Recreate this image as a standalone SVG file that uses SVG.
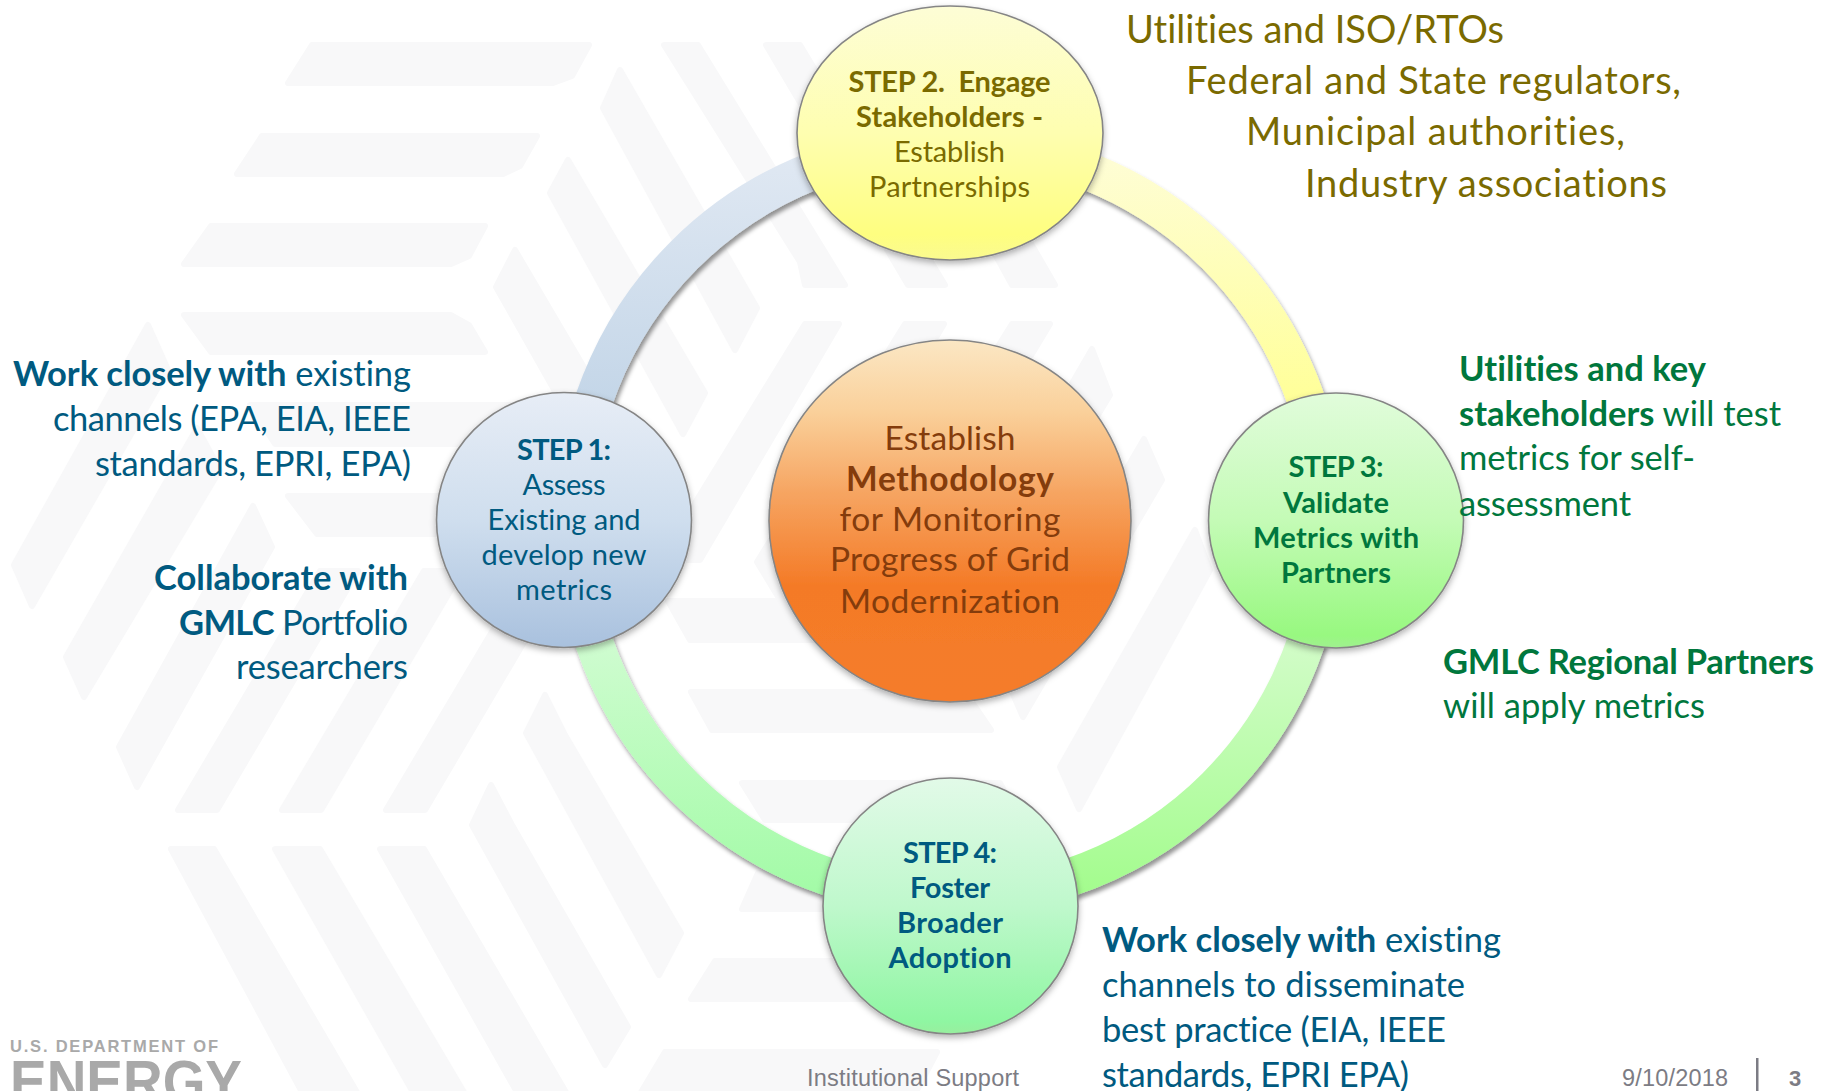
<svg xmlns="http://www.w3.org/2000/svg" width="1829" height="1091" viewBox="0 0 1829 1091">
<style>
text{font-family:"Lato","Liberation Sans",sans-serif;font-variant-ligatures:none}
.m{text-anchor:middle}.e{text-anchor:end}
.b{font-weight:700}
.wm polygon{fill:#f8f8f9;stroke:#f8f8f9;stroke-width:6;stroke-linejoin:round}
.arc{fill:none;stroke-width:38;filter:url(#sa)}
.nd{stroke:#858585;stroke-width:1.6;filter:url(#sn)}
.s{font-size:29px}.c{font-size:33.500px}.o{font-size:34.500px}.u{font-size:38px}
.blue{fill:#005a80}.ol{fill:#7a6a00}.gr{fill:#00773d}.br{fill:#843c0c}
.f{font-family:"Liberation Sans",Arial,sans-serif;fill:#7c7c84;font-size:23.500px}
.l{font-family:"Liberation Sans",Arial,sans-serif;fill:#a9a9a9;font-weight:700}
</style>
<defs>
<filter id="sa" x="-20%" y="-20%" width="140%" height="140%"><feDropShadow dx="2" dy="4" stdDeviation="2" flood-color="#000" flood-opacity=".42"/></filter>
<filter id="sn" x="-10%" y="-10%" width="120%" height="125%"><feDropShadow dx="0" dy="3" stdDeviation="3" flood-color="#000" flood-opacity=".3"/></filter>
<linearGradient id="a1" gradientUnits="userSpaceOnUse" x1="0" y1="145" x2="0" y2="400"><stop offset="0" stop-color="#e1e9f3"/><stop offset="1" stop-color="#c4d6e8"/></linearGradient>
<linearGradient id="a2" gradientUnits="userSpaceOnUse" x1="0" y1="145" x2="0" y2="400"><stop offset="0" stop-color="#fefdd8"/><stop offset="1" stop-color="#ffff99"/></linearGradient>
<linearGradient id="a3" gradientUnits="userSpaceOnUse" x1="0" y1="640" x2="0" y2="900"><stop offset="0" stop-color="#d2fcc8"/><stop offset="1" stop-color="#a2fc8c"/></linearGradient>
<linearGradient id="a4" gradientUnits="userSpaceOnUse" x1="0" y1="640" x2="0" y2="900"><stop offset="0" stop-color="#cffcd0"/><stop offset="1" stop-color="#a2fba6"/></linearGradient>
<linearGradient id="n1" x1="0" y1="0" x2="0" y2="1"><stop offset="0" stop-color="#e7edf6"/><stop offset=".5" stop-color="#cfdeee"/><stop offset="1" stop-color="#a9c1de"/></linearGradient>
<linearGradient id="n2" x1="0" y1="0" x2="0" y2="1"><stop offset="0" stop-color="#fdfdd6"/><stop offset=".5" stop-color="#fefeb0"/><stop offset=".9" stop-color="#fefe80"/><stop offset="1" stop-color="#fafa90"/></linearGradient>
<linearGradient id="n3" x1="0" y1="0" x2="0" y2="1"><stop offset="0" stop-color="#e1fcdb"/><stop offset=".5" stop-color="#c4fbb6"/><stop offset=".95" stop-color="#98f880"/><stop offset="1" stop-color="#a0f090"/></linearGradient>
<linearGradient id="n4" x1="0" y1="0" x2="0" y2="1"><stop offset="0" stop-color="#e2fae8"/><stop offset=".5" stop-color="#bff8cc"/><stop offset=".95" stop-color="#8ff6a2"/><stop offset="1" stop-color="#98ee9e"/></linearGradient>
<linearGradient id="n5" x1="0" y1="0" x2="0" y2="1"><stop offset="0" stop-color="#fbe7c4"/><stop offset=".2" stop-color="#fad09a"/><stop offset=".42" stop-color="#f6a562"/><stop offset=".68" stop-color="#f47a26"/><stop offset="1" stop-color="#f57c2c"/></linearGradient>
</defs>
<rect width="1829" height="1091" fill="#fff"/>
<g class="wm">
<polygon points="288,83 312,45 589,45 572,76 553,83"/>
<polygon points="237,174 262,136 537,136 520,166 503,174"/>
<polygon points="184,264 211,226 485,226 469,256 451,264"/>
<polygon points="184,315 451,315 469,325 485,352 211,352"/>
<polygon points="250,405 540,405 600,405 600,444 275,444"/>
<polygon points="288,496 600,496 600,534 317,534"/>
<polygon points="664,45 698,45 845,285 805,285 800,262"/>
<polygon points="766,45 800,45 945,285 908,285"/>
<polygon points="880,45 916,45 1055,285 1012,285"/>
<polygon points="620,70 757,308 735,350 603,108"/>
<polygon points="568,160 705,393 683,434 550,193"/>
<polygon points="515,250 652,483 630,524 496,287"/>
<polygon points="148,325 168,370 32,606 14,565"/>
<polygon points="197,428 220,470 84,697 66,657"/>
<polygon points="253,506 272,547 137,787 119,747"/>
<polygon points="320,571 358,571 217,810 178,810"/>
<polygon points="424,571 462,571 321,810 282,810"/>
<polygon points="528,571 566,571 425,810 386,810"/>
<polygon points="1092,349 1110,395 970,627 952,590"/>
<polygon points="1144,439 1162,480 1023,717 1005,676"/>
<polygon points="1195,530 1210,570 1079,809 1060,767"/>
<polygon points="805,324 839,324 700,560 660,560"/>
<polygon points="905,324 944,324 780,600 757,562"/>
<polygon points="1012,324 1050,324 860,640 840,600"/>
<polygon points="668,601 950,601 950,640 690,640"/>
<polygon points="691,692 965,692 991,730 712,730"/>
<polygon points="742,783 1000,783 1020,820 765,820"/>
<polygon points="742,909 758,873 1020,873 1020,909"/>
<polygon points="691,999 715,961 1020,961 1020,999"/>
<polygon points="640,1094 665,1052 937,1052 915,1094"/>
<polygon points="171,849 214,849 358,1094 303,1094"/>
<polygon points="275,849 320,849 465,1094 414,1094"/>
<polygon points="380,849 424,849 567,1094 518,1094"/>
<polygon points="545,695 565,735 681,933 659,975 526,733"/>
<polygon points="491,785 512,825 628,1027 605,1065 472,825"/>
</g>
<g id="connectors">
<path class="arc" stroke="url(#a1)" d="M574 521A376 376 0 0 1 950 145"/>
<path class="arc" stroke="url(#a2)" d="M950 145A376 376 0 0 1 1326 521"/>
<path class="arc" stroke="url(#a3)" d="M1326 521A376 376 0 0 1 950 897"/>
<path class="arc" stroke="url(#a4)" d="M950 897A376 376 0 0 1 574 521"/>
</g>
<g id="step1"><ellipse class="nd" cx="564" cy="520" rx="127.500" ry="127.500" fill="url(#n1)"/>
<text class="s m b blue" x="564" y="460" textLength="94">STEP 1:</text>
<text class="s m blue" x="564" y="495" textLength="83">Assess</text>
<text class="s m blue" x="564" y="530" textLength="153">Existing and</text>
<text class="s m blue" x="564" y="565" textLength="165">develop new</text>
<text class="s m blue" x="564" y="600" textLength="96">metrics</text></g>
<g id="step2"><ellipse class="nd" cx="950" cy="133" rx="153" ry="127" fill="url(#n2)"/>
<text class="s m b ol" x="949.500" y="92" textLength="202" xml:space="preserve">STEP 2.  Engage</text>
<text class="s m b ol" x="949.500" y="127" textLength="187">Stakeholders -</text>
<text class="s m ol" x="949.500" y="162" textLength="111">Establish</text>
<text class="s m ol" x="949.500" y="197" textLength="161">Partnerships</text></g>
<g id="step3"><ellipse class="nd" cx="1336" cy="520.500" rx="127.500" ry="127.500" fill="url(#n3)"/>
<text class="s m b gr" x="1336" y="477" textLength="95">STEP 3:</text>
<text class="s m b gr" x="1336" y="512.500" textLength="106">Validate</text>
<text class="s m b gr" x="1336" y="548" textLength="166">Metrics with</text>
<text class="s m b gr" x="1336" y="583" textLength="110">Partners</text></g>
<g id="step4"><ellipse class="nd" cx="950.500" cy="906" rx="127.500" ry="128" fill="url(#n4)"/>
<text class="s m b blue" x="950" y="863" textLength="94">STEP 4:</text>
<text class="s m b blue" x="950" y="898" textLength="80">Foster</text>
<text class="s m b blue" x="950" y="933" textLength="106">Broader</text>
<text class="s m b blue" x="950" y="968" textLength="123">Adoption</text></g>
<g id="center"><ellipse class="nd" cx="950" cy="521" rx="181" ry="181" fill="url(#n5)"/>
<text class="c m br" x="950" y="450" textLength="131">Establish</text>
<text class="c m b br" x="950" y="491" textLength="208">Methodology</text>
<text class="c m br" x="950" y="531" textLength="221">for Monitoring</text>
<text class="c m br" x="950" y="571" textLength="240">Progress of Grid</text>
<text class="c m br" x="950" y="612.500" textLength="220">Modernization</text></g>
<g id="note-top">
<text class="u ol" x="1126" y="43" textLength="378">Utilities and ISO/RTOs</text>
<text class="u ol" x="1186" y="94" textLength="495">Federal and State regulators,</text>
<text class="u ol" x="1246" y="145" textLength="379">Municipal authorities,</text>
<text class="u ol" x="1305" y="197" textLength="362">Industry associations</text>
</g>
<g id="note-left">
<text class="o e blue" x="411" y="386" textLength="398"><tspan class="b">Work closely with</tspan> existing</text>
<text class="o e blue" x="411" y="431" textLength="358">channels (EPA, EIA, IEEE</text>
<text class="o e blue" x="411" y="476" textLength="316">standards, EPRI, EPA)</text>
<text class="o e b blue" x="408" y="590" textLength="254">Collaborate with</text>
<text class="o e blue" x="408" y="634.500" textLength="229"><tspan class="b">GMLC</tspan> Portfolio</text>
<text class="o e blue" x="408" y="679" textLength="172">researchers</text>
</g>
<g id="note-right">
<text class="o b gr" x="1459" y="381" textLength="247">Utilities and key</text>
<text class="o gr" x="1459" y="425.500" textLength="322"><tspan class="b">stakeholders</tspan> will test</text>
<text class="o gr" x="1459" y="470" textLength="236">metrics for self-</text>
<text class="o gr" x="1459" y="516" textLength="172">assessment</text>
<text class="o b gr" x="1443" y="674" textLength="371">GMLC Regional Partners</text>
<text class="o gr" x="1443" y="718" textLength="262">will apply metrics</text>
</g>
<g id="note-bottom">
<text class="o blue" x="1102" y="952" textLength="399"><tspan class="b">Work closely with</tspan> existing</text>
<text class="o blue" x="1102" y="997" textLength="363">channels to disseminate</text>
<text class="o blue" x="1102" y="1042" textLength="344">best practice (EIA, IEEE</text>
<text class="o blue" x="1102" y="1087" textLength="307">standards, EPRI EPA)</text>
</g>
<g id="footer">
<text class="f" x="807" y="1086" textLength="212">Institutional Support</text>
<text class="f" x="1622" y="1086" textLength="106">9/10/2018</text>
<rect x="1756" y="1058" width="2.500" height="33" fill="#7c7c84"/>
<text class="f" x="1789" y="1086" font-weight="700" style="font-size:22px">3</text>
<text class="l" x="10" y="1052" font-size="16.500" textLength="208">U.S. DEPARTMENT OF</text>
<text class="l" x="10" y="1102" font-size="60" textLength="232" lengthAdjust="spacingAndGlyphs">ENERGY</text>
</g>
</svg>
